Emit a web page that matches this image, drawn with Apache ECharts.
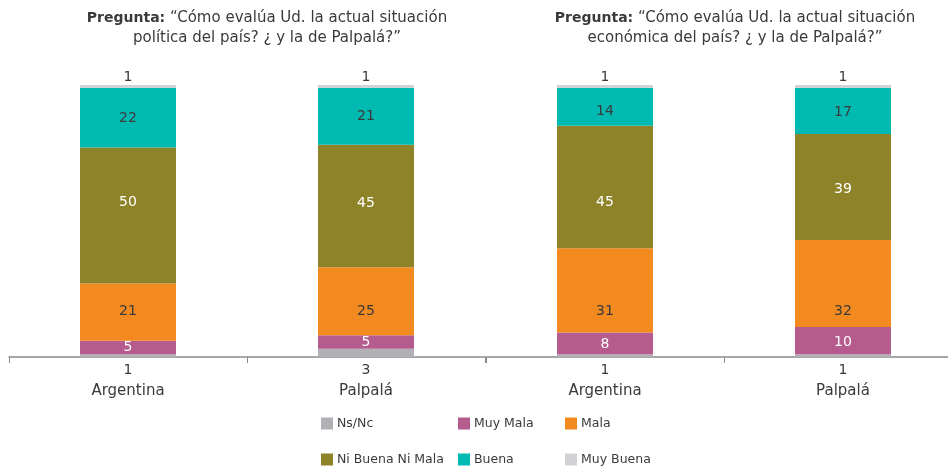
<!DOCTYPE html>
<html>
<head>
<meta charset="utf-8">
<script src="https://cdn.jsdelivr.net/npm/echarts@6/dist/echarts.min.js"></script>
<style>
  html, body { margin: 0; padding: 0; background: #fff; overflow: hidden; }
  /* canvas runs a little past the right edge so the last axis continues off-page */
  #chart { width: 975px; height: 468px; }
</style>
</head>
<body>
<div id="chart"></div>
<script>
const categories = ['Argentina', 'Palpalá'];
const seriesNames = ['Ns/Nc', 'Muy Mala', 'Mala', 'Ni Buena Ni Mala', 'Buena', 'Muy Buena'];
const colors = ['#b1b1b5', '#b55b8d', '#f38a20', '#8f8329', '#00b9b1', '#d2d2d6'];

// Situación política
const polNsNc = [1, 3];
const polMuyMala = [5, 5];
const polMala = [21, 25];
const polNiNi = [50, 45];
const polBuena = [22, 21];
const polMuyBuena = [1, 1];

// Situación económica
const ecoNsNc = [1, 1];
const ecoMuyMala = [8, 10];
const ecoMala = [31, 32];
const ecoNiNi = [45, 39];
const ecoBuena = [14, 17];
const ecoMuyBuena = [1, 1];

const titles = [
  '{b|Pregunta:} “Cómo evalúa Ud. la actual situación\npolítica del país? ¿ y la de Palpalá?”',
  '{b|Pregunta:} “Cómo evalúa Ud. la actual situación\neconómica del país? ¿ y la de Palpalá?”'
];

const FONT = 'DejaVu Sans';
const TEXT = '#3a3a3a';
const labelColors = [TEXT, '#ffffff', TEXT, '#ffffff', TEXT, TEXT];

// vertical nudges (px) of the in-bar labels, per panel, per series, per category
const labelNudge = [
  [[0, 0], [0, 0], [-1, 10], [-13, -3], [1, 0], [0, 0]],
  [[0, 0], [1, 2], [21, 28], [15, 2], [5, 2], [0, 0]]
];

function labelFor(idx) {
  const base = { show: true, color: labelColors[idx], fontSize: 14, fontFamily: FONT };
  if (idx === 0) return Object.assign(base, { position: 'bottom', distance: 6 });
  if (idx === 5) return Object.assign(base, { position: 'top', distance: 1 });
  return Object.assign(base, { position: 'inside' });
}

function panelSeries(panel, groups) {
  return groups.map((data, i) => ({
    name: seriesNames[i],
    type: 'bar',
    stack: 'p' + panel,
    xAxisIndex: panel,
    yAxisIndex: panel,
    barWidth: 96,
    data: data.map((v, j) => ({
      value: v,
      label: { offset: [0, labelNudge[panel][i][j]] }
    })),
    itemStyle: { color: colors[i] },
    label: labelFor(i)
  }));
}

const legendPos = [
  [321, 417], [458, 417], [565, 417],
  [321, 453], [458, 453], [565, 453]
];

const chart = echarts.init(document.getElementById('chart'));
chart.setOption({
  animation: false,
  color: colors,
  title: titles.map((t, i) => ({
    text: t,
    left: i === 0 ? 262 : 730,
    top: 3,
    textAlign: 'center',
    textStyle: {
      fontFamily: FONT, fontSize: 15, fontWeight: 'normal', color: TEXT, lineHeight: 20,
      rich: { b: { fontFamily: FONT, fontSize: 14, fontWeight: 'bold', color: TEXT, lineHeight: 20 } }
    }
  })),
  legend: seriesNames.map((n, i) => ({
    data: [n],
    left: legendPos[i][0],
    top: legendPos[i][1],
    padding: 0,
    itemWidth: 12,
    itemHeight: 12,
    icon: 'rect',
    textStyle: { fontFamily: FONT, fontSize: 12.5, color: TEXT, padding: [0, 0, 0, -1] },
    selectedMode: false
  })),
  grid: [
    { left: 9, top: 85, width: 476, bottom: 111 },
    { left: 486, top: 85, width: 476, bottom: 111 }
  ],
  xAxis: [0, 1].map(i => ({
    type: 'category',
    gridIndex: i,
    data: categories,
    axisLine: { lineStyle: { color: '#8a8a8a', width: 1.5 } },
    axisTick: { show: true, length: 6, lineStyle: { color: '#8a8a8a' } },
    axisLabel: { color: TEXT, fontFamily: FONT, fontSize: 15, margin: 27 }
  })),
  yAxis: [0, 1].map(i => ({
    type: 'value',
    gridIndex: i,
    min: 0,
    max: 100,
    show: false
  })),
  series: [
    ...panelSeries(0, [polNsNc, polMuyMala, polMala, polNiNi, polBuena, polMuyBuena]),
    ...panelSeries(1, [ecoNsNc, ecoMuyMala, ecoMala, ecoNiNi, ecoBuena, ecoMuyBuena])
  ]
});
</script>
</body>
</html>
